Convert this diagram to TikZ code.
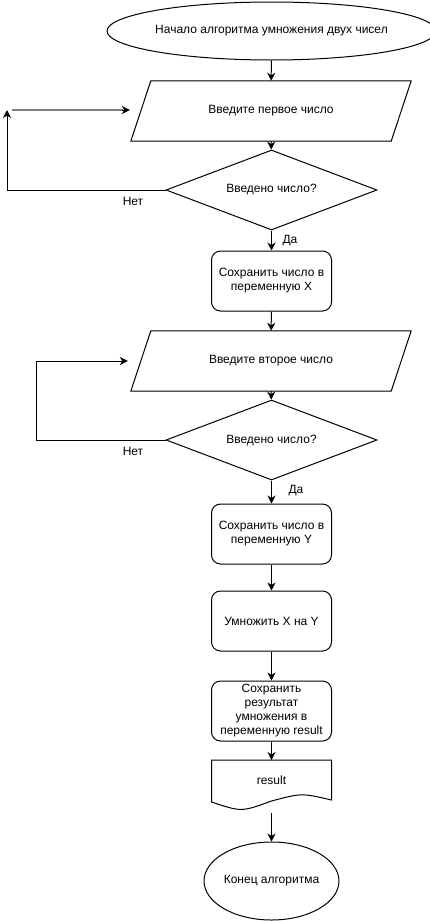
\documentclass[tikz,border=0pt]{standalone}
\usepackage{fontspec}
\setmainfont{Liberation Sans}
\usetikzlibrary{arrows.meta, positioning, shapes.geometric, calc}

\begin{document}
\begin{tikzpicture}[x=1pt, y=-1pt,
    every node/.style={font=\fontsize{12}{14}\selectfont, align=center},
    term/.style={draw, line width=1pt, ellipse, inner sep=0pt},
    io/.style={minimum width=280pt, minimum height=60pt, inner sep=0pt},
    dec/.style={draw, line width=1pt, diamond, aspect=2.6, minimum width=211pt, minimum height=80pt, inner sep=0pt},
    box/.style={draw, line width=1pt, rounded corners=9pt, minimum width=120pt, minimum height=60pt, inner sep=0pt},
    arr/.style={-{Stealth[length=8pt, width=8pt, inset=2.5pt]}, line width=1pt}
]
\useasboundingbox (0,0) rectangle (430,921);

% Main column
\node[term, minimum width=317pt, minimum height=58pt] (start) at (271.5,31) {Начало алгоритма умножения двух чисел};
\node[io] (in1) at (271,111) {Введите первое число};
\node[dec] (chk1) at (271.5,190) {Введено число?};
\node[box] (saveX) at (271.5,281) {Сохранить число в\\переменную X};
\node[io] (in2) at (271,361) {Введите второе число};
\node[dec] (chk2) at (271.5,440) {Введено число?};
\node[box] (saveY) at (271.5,534) {Сохранить число в\\переменную Y};
\node[box] (mul) at (271.5,621) {Умножить X на Y};
\node[box] (saveR) at (271.5,711) {Сохранить\\результат\\умножения в\\переменную result};

% Parallelogram outlines of the input nodes
\foreach \n in {in1,in2} {
    \draw[line width=1pt] ($(\n.north west)+(20,0)$) -- (\n.north east)
        -- ($(\n.south east)+(-20,0)$) -- (\n.south west) -- cycle;
}

% Document shape
\node (res) at (271.5,780) {result};
\draw[line width=1pt] (211.5,760) -- (331.5,760) -- (331.5,800)
    .. controls (301.5,793) .. (271.5,801)
    .. controls (241.5,812) .. (211.5,802) -- cycle;
\coordinate (resb) at (271.5,813);

\node[term, minimum width=120pt, minimum height=78pt] (stop) at (271.5,881) {Конец алгоритма};

% Connectors
\draw[arr] (start) -- (in1);
\draw[arr] (in1) -- (chk1);
\draw[arr] (chk1) -- (saveX);
\draw[arr] (saveX) -- (in2);
\draw[arr] (in2) -- (chk2);
\draw[arr] (chk2) -- (saveY);
\draw[arr] (saveY) -- (mul);
\draw[arr] (mul) -- (saveR);
\draw[arr] (saveR) -- (res |- 760,760);
\draw[arr] (resb) -- (stop);

% Loop back, first number (grey line, black tip)
\coordinate (up1) at (7,110);
\coordinate (lp1) at (12,110);
\coordinate (lp2) at (lp1 -| in1.west);
\draw[arr] (chk1.west) -| (up1);
\draw[black!50, line width=1.3pt] (lp1) -- ($(lp2)+(-8,0)$);
\draw[arr, shorten >=1pt] ($(lp2)+(-9,0)$) -- (lp2);

% Loop back, second number
\draw[arr, shorten >=3pt] (chk2.west) -- ++(-129,0) |- (in2.west);

% Labels
\node at (133,201) {Нет};
\node at (290,241) {Да};
\node at (133,451) {Нет};
\node at (296,491) {Да};
\end{tikzpicture}
\end{document}
